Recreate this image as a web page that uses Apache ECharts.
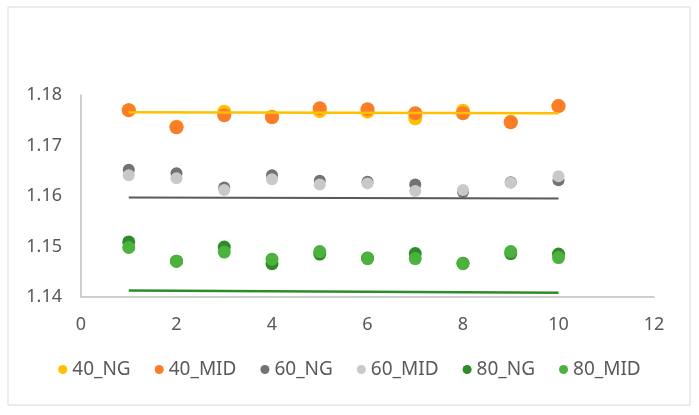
<!DOCTYPE html>
<html>
<head>
<meta charset="utf-8">
<script src="https://cdn.jsdelivr.net/npm/echarts@6/dist/echarts.min.js"></script>
<style>
  html, body { margin: 0; padding: 0; background: #fff; }
  #chart { width: 699px; height: 415px; }
</style>
</head>
<body>
<div id="chart"></div>
<script>
// x positions of the samples
var xs = [1, 2, 3, 4, 5, 6, 7, 8, 9, 10]

var ng40  = [1.1770, 1.1737, 1.1767, 1.1757, 1.1768, 1.1767, 1.1754, 1.1769, 1.1747, 1.1778]
var mid40 = [1.1770, 1.1736, 1.1760, 1.1756, 1.1774, 1.1772, 1.1764, 1.1764, 1.1746, 1.1778]
var ng60  = [1.1652, 1.1645, 1.1617, 1.1641, 1.1630, 1.1628, 1.1623, 1.1608, 1.1627, 1.1631]
var mid60 = [1.1641, 1.1635, 1.1612, 1.1633, 1.1623, 1.1625, 1.1610, 1.1612, 1.1626, 1.1639]
var ng80  = [1.1509, 1.1471, 1.1499, 1.1466, 1.1485, 1.1477, 1.1486, 1.1467, 1.1486, 1.1485]
var mid80 = [1.1498, 1.1471, 1.1489, 1.1475, 1.1490, 1.1476, 1.1476, 1.1466, 1.1490, 1.1478]

// trend lines, [value at x=1, value at x=10]
var trendX = [1, 10]
var trend40 = [1.17657, 1.17637]
var trend60 = [1.15970, 1.15950]
var trend80 = [1.14131, 1.14085]

var names = ['40_NG', '40_MID', '60_NG', '60_MID', '80_NG', '80_MID']
var colors = ['#FFC000', '#FA7D28', '#767171', '#C9C9C9', '#2F8A2A', '#4CB23E']
var sizes = [14, 14, 12, 12, 13, 13]
var values = [ng40, mid40, ng60, mid60, ng80, mid80]

function pairs(x, y) {
    return x.map(function (v, i) { return [v, y[i]] })
}

var chart = echarts.init(document.getElementById('chart'))

var series = names.map(function (n, i) {
    return {
        name: n,
        type: 'scatter',
        symbolSize: sizes[i],
        itemStyle: { color: colors[i], opacity: 1 },
        data: pairs(xs, values[i]),
        z: 2
    }
})

var trends = [[trend40, '#FFC000', 2.5], [trend60, '#595959', 2], [trend80, '#2F8A2A', 2.5]]
trends.forEach(function (t) {
    series.push({
        type: 'line',
        data: pairs(trendX, t[0]),
        showSymbol: false,
        symbol: 'none',
        lineStyle: { color: t[1], width: t[2] },
        silent: true,
        z: 3
    })
})

chart.setOption({
    animation: false,
    textStyle: { fontFamily: 'Noto Sans' },
    graphic: [{
        type: 'rect',
        shape: { x: 8, y: 7, width: 682, height: 398 },
        style: { fill: 'none', stroke: '#D9D9D9', lineWidth: 1 }
    }],
    grid: { left: 81, right: 45, top: 95, bottom: 118 },
    xAxis: {
        type: 'value',
        min: 0,
        max: 12,
        interval: 2,
        axisLine: { show: true, lineStyle: { color: '#BFBFBF', width: 1.5 } },
        axisTick: { show: false },
        splitLine: { show: false },
        axisLabel: { color: '#595959', fontSize: 18, margin: 19 }
    },
    yAxis: {
        type: 'value',
        min: 1.14,
        max: 1.18,
        interval: 0.01,
        axisLine: { show: true, lineStyle: { color: '#BFBFBF', width: 1.5 } },
        axisTick: { show: false },
        splitLine: { show: false },
        axisLabel: {
            color: '#595959', fontSize: 18, margin: 19,
            formatter: function (v) { return v.toFixed(2) }
        }
    },
    legend: {
        data: names,
        bottom: 31,
        left: 'center',
        icon: 'circle',
        itemWidth: 9,
        itemHeight: 9,
        itemGap: 24,
        textStyle: { color: '#595959', fontSize: 19 }
    },
    series: series
})
</script>
</body>
</html>
